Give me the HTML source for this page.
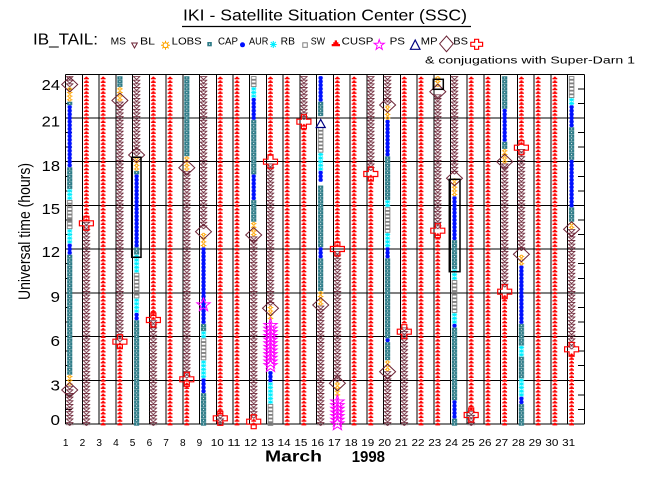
<!DOCTYPE html>
<html><head><meta charset="utf-8"><style>
html,body{margin:0;padding:0;background:#fff;width:650px;height:500px;overflow:hidden}
svg{display:block}
text{font-family:"Liberation Sans",sans-serif;fill:#000}
</style></head><body>
<svg width="650" height="500" viewBox="0 0 650 500" xmlns="http://www.w3.org/2000/svg">
<defs>
<pattern id="sw" patternUnits="userSpaceOnUse" x="65.7" y="-1.8214" width="16.73" height="3.6428" patternTransform="scale(1,-0.068629)"><path d="M1.6,3.2h4.8v-1.4h-1.2v-1h-0.9v-0.6h-0.6v0.6h-0.9v1h-1.2z" fill="#ff0000"/></pattern>
<pattern id="ms" patternUnits="userSpaceOnUse" x="65.7" y="-1.8214" width="16.73" height="3.6428" patternTransform="scale(1,-0.068629)"><polygon points="0.7,0.35 7.3,0.35 4,3.35" fill="none" stroke="#6b2335" stroke-width="0.9"/></pattern>
<pattern id="lobs" patternUnits="userSpaceOnUse" x="65.7" y="-1.8214" width="16.73" height="3.6428" patternTransform="scale(1,-0.068629)"><rect x="1.4" y="0.15" width="5.2" height="3.35" fill="#2d7b87"/><rect x="3.5" y="1.3" width="1" height="1" fill="#fff"/></pattern>
<pattern id="cap" patternUnits="userSpaceOnUse" x="65.7" y="-1.8214" width="16.73" height="3.6428" patternTransform="scale(1,-0.068629)"><circle cx="4" cy="1.82" r="2.2" fill="#0010ff"/></pattern>
<pattern id="aur" patternUnits="userSpaceOnUse" x="65.7" y="-1.8214" width="16.73" height="3.6428" patternTransform="scale(1,-0.068629)"><path d="M1.4,1.82H6.6M4,0.1V3.5M2,0.3L6,3.3M6,0.3L2,3.3" stroke="#00eeff" stroke-width="0.9" fill="none"/></pattern>
<pattern id="rb" patternUnits="userSpaceOnUse" x="65.7" y="-1.8214" width="16.73" height="3.6428" patternTransform="scale(1,-0.068629)"><rect x="1.7" y="0.45" width="4.6" height="2.75" fill="none" stroke="#808080" stroke-width="0.9"/></pattern>
<pattern id="bl" patternUnits="userSpaceOnUse" x="65.7" y="-1.8214" width="16.73" height="3.6428" patternTransform="scale(1,-0.068629)"><circle cx="4" cy="1.82" r="1.3" fill="none" stroke="#ffa500" stroke-width="0.9"/><path d="M1.2,1.82H2.7M5.3,1.82H6.8" stroke="#ffa500" stroke-width="0.9"/></pattern>
<polygon id="dia" points="-8,0 0,-7.5 8,0 0,7.5" fill="none" stroke="#6b2335" stroke-width="1"/>
<path id="crs" d="M-2.5,-7H2.5V-2.5H7V2.5H2.5V7H-2.5V2.5H-7V-2.5H-2.5Z" fill="none" stroke="#ff0000" stroke-width="1.2"/>
<polygon id="star" points="0,-7.67 1.65,-2.94 6.66,-2.83 2.66,0.2 4.11,4.99 0,2.13 -4.11,4.99 -2.66,0.2 -6.66,-2.83 -1.65,-2.94" fill="none" stroke="#ff00ff" stroke-width="1"/>
</defs>

<!-- Title -->
<text x="183" y="20.7" font-size="16" textLength="284" lengthAdjust="spacingAndGlyphs">IKI - Satellite Situation Center (SSC)</text>
<line x1="182" y1="26.5" x2="471" y2="26.5" stroke="#000" stroke-width="1.3"/>

<!-- Legend -->
<text x="33" y="44.7" font-size="16" textLength="65" lengthAdjust="spacingAndGlyphs">IB_TAIL:</text>
<g font-size="10">
<text x="110.7" y="44.7" textLength="15.3" lengthAdjust="spacingAndGlyphs">MS</text>
<text x="140" y="44.7" textLength="15" lengthAdjust="spacingAndGlyphs">BL</text>
<text x="171.7" y="44.7" textLength="30" lengthAdjust="spacingAndGlyphs">LOBS</text>
<text x="218" y="44.7" textLength="20" lengthAdjust="spacingAndGlyphs">CAP</text>
<text x="249" y="44.7" textLength="19.3" lengthAdjust="spacingAndGlyphs">AUR</text>
<text x="280.7" y="44.7" textLength="14.3" lengthAdjust="spacingAndGlyphs">RB</text>
<text x="310.7" y="44.7" textLength="14.3" lengthAdjust="spacingAndGlyphs">SW</text>
<text x="341.7" y="44.7" textLength="31.6" lengthAdjust="spacingAndGlyphs">CUSP</text>
<text x="389.6" y="44.7" textLength="15.4" lengthAdjust="spacingAndGlyphs">PS</text>
<text x="420.8" y="44.7" textLength="16.7" lengthAdjust="spacingAndGlyphs">MP</text>
<text x="453.3" y="44.7" textLength="14.7" lengthAdjust="spacingAndGlyphs">BS</text>
<text x="425" y="63.3" textLength="210" lengthAdjust="spacingAndGlyphs">&amp; conjugations with Super-Darn 1</text>
</g>
<polygon points="131.7,43 137.3,43 134.5,48" fill="none" stroke="#6b2335" stroke-width="1"/>
<circle cx="165.5" cy="45.2" r="2.4" fill="none" stroke="#ffa500" stroke-width="1.2"/>
<path d="M161,45.2h2M168,45.2h2M165.5,40.7v2M165.5,47.7v2M162.3,42l1.3,1.3M168.7,42l-1.3,1.3M162.3,48.4l1.3,-1.3M168.7,48.4l-1.3,-1.3" stroke="#ffa500" stroke-width="1"/>
<rect x="207.3" y="42" width="4.5" height="4.3" fill="#2d7b87"/><rect x="209" y="43.6" width="1.1" height="1.1" fill="#fff"/>
<circle cx="242.5" cy="44.8" r="2.5" fill="#0010ff"/>
<path d="M270,44.5h6.7M273.3,41v7M270.8,42l5,5M275.8,42l-5,5" stroke="#00eeff" stroke-width="1.1"/>
<rect x="302.8" y="42.8" width="4.5" height="4.5" fill="none" stroke="#808080" stroke-width="1"/>
<path d="M331.7,46.3h8.3v-2.3h-1.6v-1.7h-1.4v-1.9h-2.3v1.9h-1.4v1.7h-1.6z" fill="#ff0000"/>
<polygon points="379.2,39.6 380.4,43.3 384.3,43.3 381.2,45.6 382.3,49.4 379.2,47.1 376.1,49.4 377.2,45.6 374.1,43.3 378,43.3" fill="none" stroke="#ff00ff" stroke-width="1"/>
<polygon points="410.4,49.3 420,49.3 415.2,40" fill="none" stroke="#000080" stroke-width="1.2"/>
<polygon points="439.6,43.8 446.5,36 453.3,43.8 446.5,51.7" fill="none" stroke="#6b2335" stroke-width="1"/>
<path d="M474.6,39.3h4v3h4v4h-4v3h-4v-3h-3.8v-4h3.8z" fill="none" stroke="#ff0000" stroke-width="1.2"/>

<!-- Grid -->
<g stroke="#000" stroke-width="1" shape-rendering="crispEdges">
<path d="M65.7,74.3V424M82.43,74.3V424M99.16,74.3V424M115.89,74.3V424M132.62,74.3V424M149.35,74.3V424M166.08,74.3V424M182.81,74.3V424M199.54,74.3V424M216.27,74.3V424M233,74.3V424M249.73,74.3V424M266.46,74.3V424M283.19,74.3V424M299.92,74.3V424M316.65,74.3V424M333.38,74.3V424M350.11,74.3V424M366.84,74.3V424M383.57,74.3V424M400.3,74.3V424M417.03,74.3V424M433.76,74.3V424M450.49,74.3V424M467.22,74.3V424M483.95,74.3V424M500.68,74.3V424M517.41,74.3V424M534.14,74.3V424M550.87,74.3V424M567.6,74.3V424M584.33,74.3V424"/>
<path d="M65.7,74.3H584.33M65.7,118H584.33M65.7,161.71H584.33M65.7,205.43H584.33M65.7,249.14H584.33M65.7,292.86H584.33M65.7,336.57H584.33M65.7,380.29H584.33M65.7,424H584.33"/>
<path d="M578,409.43H584.33M578,394.86H584.33M578,365.72H584.33M578,351.15H584.33M578,322H584.33M578,307.43H584.33M578,278.29H584.33M578,263.72H584.33M578,234.58H584.33M578,220H584.33M578,190.86H584.33M578,176.29H584.33M578,147.15H584.33M578,132.58H584.33M578,103.44H584.33M578,88.87H584.33"/>
<path d="M65.7,409.43H72M65.7,394.86H72M65.7,365.72H72M65.7,351.15H72M65.7,322H72M65.7,307.43H72M65.7,278.29H72M65.7,263.72H72M65.7,234.58H72M65.7,220H72M65.7,190.86H72M65.7,176.29H72M65.7,147.15H72M65.7,132.58H72M65.7,103.44H72M65.7,88.87H72"/>
</g>

<!-- Column markers (hour coordinates) -->
<g transform="translate(0,424) scale(1,-14.571)">
<g fill="url(#sw)">
<rect x="82.43" y="13.875" width="8" height="10"/>
<rect x="99.16" y="-0.125" width="8" height="24"/>
<rect x="115.89" y="-0.125" width="8" height="5.75"/>
<rect x="149.35" y="7.125" width="8" height="16.75"/>
<rect x="166.08" y="-0.125" width="8" height="24"/>
<rect x="182.81" y="-0.125" width="8" height="3.25"/>
<rect x="216.27" y="0.625" width="8" height="23.25"/>
<rect x="233" y="-0.125" width="8" height="24"/>
<rect x="249.73" y="-0.125" width="8" height="0.5"/>
<rect x="266.46" y="18.375" width="8" height="5.5"/>
<rect x="283.19" y="-0.125" width="8" height="24"/>
<rect x="299.92" y="-0.125" width="8" height="20.75"/>
<rect x="333.38" y="12.125" width="8" height="11.75"/>
<rect x="350.11" y="-0.125" width="8" height="24"/>
<rect x="366.84" y="-0.125" width="8" height="17.25"/>
<rect x="400.3" y="6.875" width="8" height="17"/>
<rect x="417.03" y="-0.125" width="8" height="24"/>
<rect x="433.76" y="-0.125" width="8" height="13.25"/>
<rect x="467.22" y="0.875" width="8" height="23"/>
<rect x="483.95" y="-0.125" width="8" height="24"/>
<rect x="500.68" y="-0.125" width="8" height="9"/>
<rect x="517.41" y="19.125" width="8" height="4.75"/>
<rect x="534.14" y="-0.125" width="8" height="24"/>
<rect x="550.87" y="-0.125" width="8" height="24"/>
<rect x="567.6" y="-0.125" width="8" height="5"/>
</g>
<g fill="url(#ms)">
<rect x="65.7" y="-0.125" width="8" height="2.75"/>
<rect x="65.7" y="23.125" width="8" height="0.75"/>
<rect x="82.43" y="-0.125" width="8" height="14"/>
<rect x="115.89" y="5.625" width="8" height="16.5"/>
<rect x="132.62" y="18.375" width="8" height="5.5"/>
<rect x="149.35" y="-0.125" width="8" height="7.25"/>
<rect x="182.81" y="3.125" width="8" height="14.25"/>
<rect x="199.54" y="13.375" width="8" height="10.5"/>
<rect x="216.27" y="-0.125" width="8" height="0.75"/>
<rect x="249.73" y="0.375" width="8" height="12.5"/>
<rect x="266.46" y="8.125" width="8" height="9.75"/>
<rect x="299.92" y="20.875" width="8" height="3"/>
<rect x="316.65" y="-0.125" width="8" height="8.25"/>
<rect x="333.38" y="2.875" width="8" height="9"/>
<rect x="366.84" y="17.375" width="8" height="6.5"/>
<rect x="383.57" y="-0.125" width="8" height="3.75"/>
<rect x="383.57" y="21.875" width="8" height="2"/>
<rect x="400.3" y="-0.125" width="8" height="6.75"/>
<rect x="433.76" y="13.375" width="8" height="9.25"/>
<rect x="450.49" y="17.125" width="8" height="6.75"/>
<rect x="467.22" y="-0.125" width="8" height="1"/>
<rect x="500.68" y="9.375" width="8" height="8.5"/>
<rect x="517.41" y="11.875" width="8" height="7"/>
<rect x="567.6" y="5.125" width="8" height="8.25"/>
</g>
<g fill="url(#lobs)">
<rect x="65.7" y="3.375" width="8" height="8.25"/>
<rect x="65.7" y="16.125" width="8" height="1.5"/>
<rect x="65.7" y="21.875" width="8" height="0.25"/>
<rect x="115.89" y="23.125" width="8" height="0.75"/>
<rect x="132.62" y="-0.125" width="8" height="7.25"/>
<rect x="132.62" y="11.625" width="8" height="0.5"/>
<rect x="132.62" y="17.125" width="8" height="0.25"/>
<rect x="182.81" y="18.375" width="8" height="5.5"/>
<rect x="199.54" y="-0.125" width="8" height="2.25"/>
<rect x="199.54" y="6.375" width="8" height="0.5"/>
<rect x="249.73" y="13.875" width="8" height="1.5"/>
<rect x="249.73" y="17.125" width="8" height="3.75"/>
<rect x="316.65" y="9.125" width="8" height="2.25"/>
<rect x="316.65" y="12.125" width="8" height="4.25"/>
<rect x="316.65" y="21.125" width="8" height="1"/>
<rect x="383.57" y="4.375" width="8" height="1.25"/>
<rect x="383.57" y="5.875" width="8" height="5.5"/>
<rect x="383.57" y="15.375" width="8" height="3"/>
<rect x="450.49" y="-0.125" width="8" height="0.5"/>
<rect x="450.49" y="1.625" width="8" height="5"/>
<rect x="450.49" y="10.625" width="8" height="2"/>
<rect x="500.68" y="18.875" width="8" height="0.5"/>
<rect x="500.68" y="21.625" width="8" height="2.25"/>
<rect x="517.41" y="-0.125" width="8" height="1.5"/>
<rect x="517.41" y="3.125" width="8" height="1.5"/>
<rect x="517.41" y="5.375" width="8" height="1.5"/>
<rect x="567.6" y="13.875" width="8" height="1"/>
<rect x="567.6" y="18.125" width="8" height="2.25"/>
</g>
<g fill="url(#cap)">
<rect x="65.7" y="11.625" width="8" height="0.75"/>
<rect x="65.7" y="17.625" width="8" height="4.25"/>
<rect x="132.62" y="7.125" width="8" height="0.5"/>
<rect x="132.62" y="12.125" width="8" height="5"/>
<rect x="199.54" y="2.125" width="8" height="1"/>
<rect x="199.54" y="6.875" width="8" height="5.25"/>
<rect x="249.73" y="15.375" width="8" height="1.75"/>
<rect x="249.73" y="20.875" width="8" height="1.5"/>
<rect x="266.46" y="2.875" width="8" height="0.75"/>
<rect x="316.65" y="11.375" width="8" height="0.75"/>
<rect x="316.65" y="16.625" width="8" height="0.75"/>
<rect x="316.65" y="22.125" width="8" height="1.75"/>
<rect x="383.57" y="5.625" width="8" height="0.25"/>
<rect x="383.57" y="11.375" width="8" height="0.75"/>
<rect x="383.57" y="18.375" width="8" height="2.5"/>
<rect x="450.49" y="0.375" width="8" height="1.25"/>
<rect x="450.49" y="6.625" width="8" height="0.25"/>
<rect x="450.49" y="12.625" width="8" height="3"/>
<rect x="500.68" y="19.375" width="8" height="2.25"/>
<rect x="517.41" y="1.375" width="8" height="0.5"/>
<rect x="517.41" y="6.875" width="8" height="4"/>
<rect x="567.6" y="14.875" width="8" height="3.25"/>
<rect x="567.6" y="20.375" width="8" height="1.5"/>
</g>
<g fill="url(#aur)">
<rect x="65.7" y="12.375" width="8" height="1"/>
<rect x="65.7" y="15.375" width="8" height="0.75"/>
<rect x="132.62" y="7.625" width="8" height="1"/>
<rect x="132.62" y="10.375" width="8" height="1.25"/>
<rect x="199.54" y="3.125" width="8" height="1.25"/>
<rect x="199.54" y="5.875" width="8" height="0.5"/>
<rect x="249.73" y="22.375" width="8" height="0.75"/>
<rect x="266.46" y="1.375" width="8" height="1.5"/>
<rect x="316.65" y="17.375" width="8" height="1.25"/>
<rect x="383.57" y="12.125" width="8" height="1"/>
<rect x="383.57" y="14.875" width="8" height="0.5"/>
<rect x="450.49" y="6.875" width="8" height="0.75"/>
<rect x="450.49" y="9.875" width="8" height="0.75"/>
<rect x="517.41" y="1.875" width="8" height="1.25"/>
<rect x="517.41" y="4.625" width="8" height="0.75"/>
<rect x="567.6" y="21.875" width="8" height="0.5"/>
</g>
<g fill="url(#rb)">
<rect x="65.7" y="13.375" width="8" height="2"/>
<rect x="132.62" y="8.625" width="8" height="1.75"/>
<rect x="199.54" y="4.375" width="8" height="1.5"/>
<rect x="249.73" y="23.125" width="8" height="0.75"/>
<rect x="266.46" y="-0.125" width="8" height="1.5"/>
<rect x="316.65" y="18.625" width="8" height="1.75"/>
<rect x="383.57" y="13.125" width="8" height="1.75"/>
<rect x="450.49" y="7.625" width="8" height="2.25"/>
<rect x="567.6" y="22.375" width="8" height="1.5"/>
</g>
<g fill="url(#bl)">
<rect x="65.7" y="2.625" width="8" height="0.75"/>
<rect x="65.7" y="22.125" width="8" height="1"/>
<rect x="115.89" y="22.125" width="8" height="1"/>
<rect x="132.62" y="17.375" width="8" height="1"/>
<rect x="182.81" y="17.375" width="8" height="1"/>
<rect x="199.54" y="12.125" width="8" height="1"/>
<rect x="249.73" y="12.875" width="8" height="1"/>
<rect x="266.46" y="7.125" width="8" height="1"/>
<rect x="316.65" y="8.125" width="8" height="1"/>
<rect x="333.38" y="1.875" width="8" height="1"/>
<rect x="383.57" y="3.625" width="8" height="0.75"/>
<rect x="383.57" y="20.875" width="8" height="1"/>
<rect x="433.76" y="23.125" width="8" height="0.75"/>
<rect x="450.49" y="15.625" width="8" height="1.25"/>
<rect x="500.68" y="17.875" width="8" height="1"/>
<rect x="517.41" y="10.875" width="8" height="0.75"/>
<rect x="567.6" y="13.375" width="8" height="0.5"/>
</g>
</g>

<!-- Stars (PS) -->
<use href="#star" x="203.5" y="305.7"/>
<use href="#star" x="270.5" y="366.4"/><use href="#star" x="270.5" y="362.8"/><use href="#star" x="270.5" y="359.1"/><use href="#star" x="270.5" y="355.5"/><use href="#star" x="270.5" y="351.8"/><use href="#star" x="270.5" y="348.2"/><use href="#star" x="270.5" y="344.6"/><use href="#star" x="270.5" y="340.9"/><use href="#star" x="270.5" y="337.3"/><use href="#star" x="270.5" y="333.6"/><use href="#star" x="270.5" y="330"/><use href="#star" x="270.5" y="326.3"/>
<use href="#star" x="337.4" y="424.7"/><use href="#star" x="337.4" y="421.1"/><use href="#star" x="337.4" y="417.4"/><use href="#star" x="337.4" y="413.8"/><use href="#star" x="337.4" y="410.1"/><use href="#star" x="337.4" y="406.5"/><use href="#star" x="337.4" y="402.8"/>

<!-- Diamonds (MP) -->
<use href="#dia" x="69.7" y="84.5"/><use href="#dia" x="69.7" y="390"/>
<use href="#dia" x="119.9" y="100.5"/>
<use href="#dia" x="136.6" y="155"/>
<use href="#dia" x="186.8" y="167.7"/>
<use href="#dia" x="203.5" y="231.7"/>
<use href="#dia" x="253.7" y="235"/>
<use href="#dia" x="270.5" y="308.3"/>
<use href="#dia" x="320.7" y="305"/>
<use href="#dia" x="337.4" y="383.3"/>
<use href="#dia" x="387.6" y="105"/><use href="#dia" x="387.6" y="371.7"/>
<use href="#dia" x="437.8" y="91.7"/>
<use href="#dia" x="454.5" y="178.3"/>
<use href="#dia" x="504.7" y="161.7"/>
<use href="#dia" x="521.4" y="254.3"/>
<use href="#dia" x="571.6" y="229.3"/>

<!-- Crosses (BS) -->
<use href="#crs" x="86.4" y="223.3"/>
<use href="#crs" x="119.9" y="341.7"/>
<use href="#crs" x="153.4" y="320"/>
<use href="#crs" x="186.8" y="379.3"/>
<use href="#crs" x="220.3" y="418.3"/>
<use href="#crs" x="253.7" y="421.7"/>
<use href="#crs" x="270.5" y="161.7"/>
<use href="#crs" x="303.9" y="121.7"/>
<use href="#crs" x="337.4" y="249"/>
<use href="#crs" x="370.8" y="174"/>
<use href="#crs" x="404.3" y="331.7"/>
<use href="#crs" x="437.8" y="230.7"/>
<use href="#crs" x="471.2" y="415"/>
<use href="#crs" x="504.7" y="291.7"/>
<use href="#crs" x="521.4" y="147.7"/>
<use href="#crs" x="571.6" y="349.3"/>

<!-- PS triangle -->
<polygon points="316.2,127.5 325.2,127.5 320.7,119.5" fill="none" stroke="#000080" stroke-width="1.2"/>

<!-- Boxes -->
<g fill="none" stroke="#000" stroke-width="1.5">
<rect x="131.7" y="157.3" width="9.3" height="100"/>
<rect x="433.3" y="79.3" width="10" height="10"/>
<rect x="449.3" y="179.3" width="10.7" height="92.4"/>
</g>

<!-- Y tick labels -->
<g font-size="15">
<text x="41.7" y="90" textLength="18.3" lengthAdjust="spacingAndGlyphs">24</text>
<text x="41.7" y="126.7" textLength="18.3" lengthAdjust="spacingAndGlyphs">21</text>
<text x="41.7" y="171" textLength="18.3" lengthAdjust="spacingAndGlyphs">18</text>
<text x="41.7" y="214" textLength="18.3" lengthAdjust="spacingAndGlyphs">15</text>
<text x="41.7" y="257" textLength="18.3" lengthAdjust="spacingAndGlyphs">12</text>
<text x="50.5" y="302" textLength="9.5" lengthAdjust="spacingAndGlyphs">9</text>
<text x="50.5" y="346" textLength="9.5" lengthAdjust="spacingAndGlyphs">6</text>
<text x="50.5" y="390.7" textLength="9.5" lengthAdjust="spacingAndGlyphs">3</text>
<text x="50.5" y="425" textLength="9.5" lengthAdjust="spacingAndGlyphs">0</text>
</g>
<text transform="translate(30,300) rotate(-90)" font-size="17" textLength="137" lengthAdjust="spacingAndGlyphs">Universal time (hours)</text>

<!-- X tick labels -->
<g font-size="10">
<text x="62.9" y="446" textLength="5.6" lengthAdjust="spacingAndGlyphs">1</text>
<text x="79.6" y="446" textLength="5.6" lengthAdjust="spacingAndGlyphs">2</text>
<text x="96.4" y="446" textLength="5.6" lengthAdjust="spacingAndGlyphs">3</text>
<text x="113.1" y="446" textLength="5.6" lengthAdjust="spacingAndGlyphs">4</text>
<text x="129.8" y="446" textLength="5.6" lengthAdjust="spacingAndGlyphs">5</text>
<text x="146.6" y="446" textLength="5.6" lengthAdjust="spacingAndGlyphs">6</text>
<text x="163.3" y="446" textLength="5.6" lengthAdjust="spacingAndGlyphs">7</text>
<text x="180" y="446" textLength="5.6" lengthAdjust="spacingAndGlyphs">8</text>
<text x="196.7" y="446" textLength="5.6" lengthAdjust="spacingAndGlyphs">9</text>
<text x="210.8" y="446" textLength="13" lengthAdjust="spacingAndGlyphs">10</text>
<text x="227.5" y="446" textLength="13" lengthAdjust="spacingAndGlyphs">11</text>
<text x="244.2" y="446" textLength="13" lengthAdjust="spacingAndGlyphs">12</text>
<text x="261" y="446" textLength="13" lengthAdjust="spacingAndGlyphs">13</text>
<text x="277.7" y="446" textLength="13" lengthAdjust="spacingAndGlyphs">14</text>
<text x="294.4" y="446" textLength="13" lengthAdjust="spacingAndGlyphs">15</text>
<text x="311.2" y="446" textLength="13" lengthAdjust="spacingAndGlyphs">16</text>
<text x="327.9" y="446" textLength="13" lengthAdjust="spacingAndGlyphs">17</text>
<text x="344.6" y="446" textLength="13" lengthAdjust="spacingAndGlyphs">18</text>
<text x="361.3" y="446" textLength="13" lengthAdjust="spacingAndGlyphs">19</text>
<text x="378.1" y="446" textLength="13" lengthAdjust="spacingAndGlyphs">20</text>
<text x="394.8" y="446" textLength="13" lengthAdjust="spacingAndGlyphs">21</text>
<text x="411.5" y="446" textLength="13" lengthAdjust="spacingAndGlyphs">22</text>
<text x="428.3" y="446" textLength="13" lengthAdjust="spacingAndGlyphs">23</text>
<text x="445" y="446" textLength="13" lengthAdjust="spacingAndGlyphs">24</text>
<text x="461.7" y="446" textLength="13" lengthAdjust="spacingAndGlyphs">25</text>
<text x="478.5" y="446" textLength="13" lengthAdjust="spacingAndGlyphs">26</text>
<text x="495.2" y="446" textLength="13" lengthAdjust="spacingAndGlyphs">27</text>
<text x="511.9" y="446" textLength="13" lengthAdjust="spacingAndGlyphs">28</text>
<text x="528.6" y="446" textLength="13" lengthAdjust="spacingAndGlyphs">29</text>
<text x="545.4" y="446" textLength="13" lengthAdjust="spacingAndGlyphs">30</text>
<text x="562.1" y="446" textLength="13" lengthAdjust="spacingAndGlyphs">31</text>
</g>
<text x="265" y="461.7" font-size="16" font-weight="bold" textLength="57" lengthAdjust="spacingAndGlyphs">March</text>
<text x="351.7" y="462" font-size="16" font-weight="bold" textLength="33.3" lengthAdjust="spacingAndGlyphs">1998</text>
</svg>
</body></html>
